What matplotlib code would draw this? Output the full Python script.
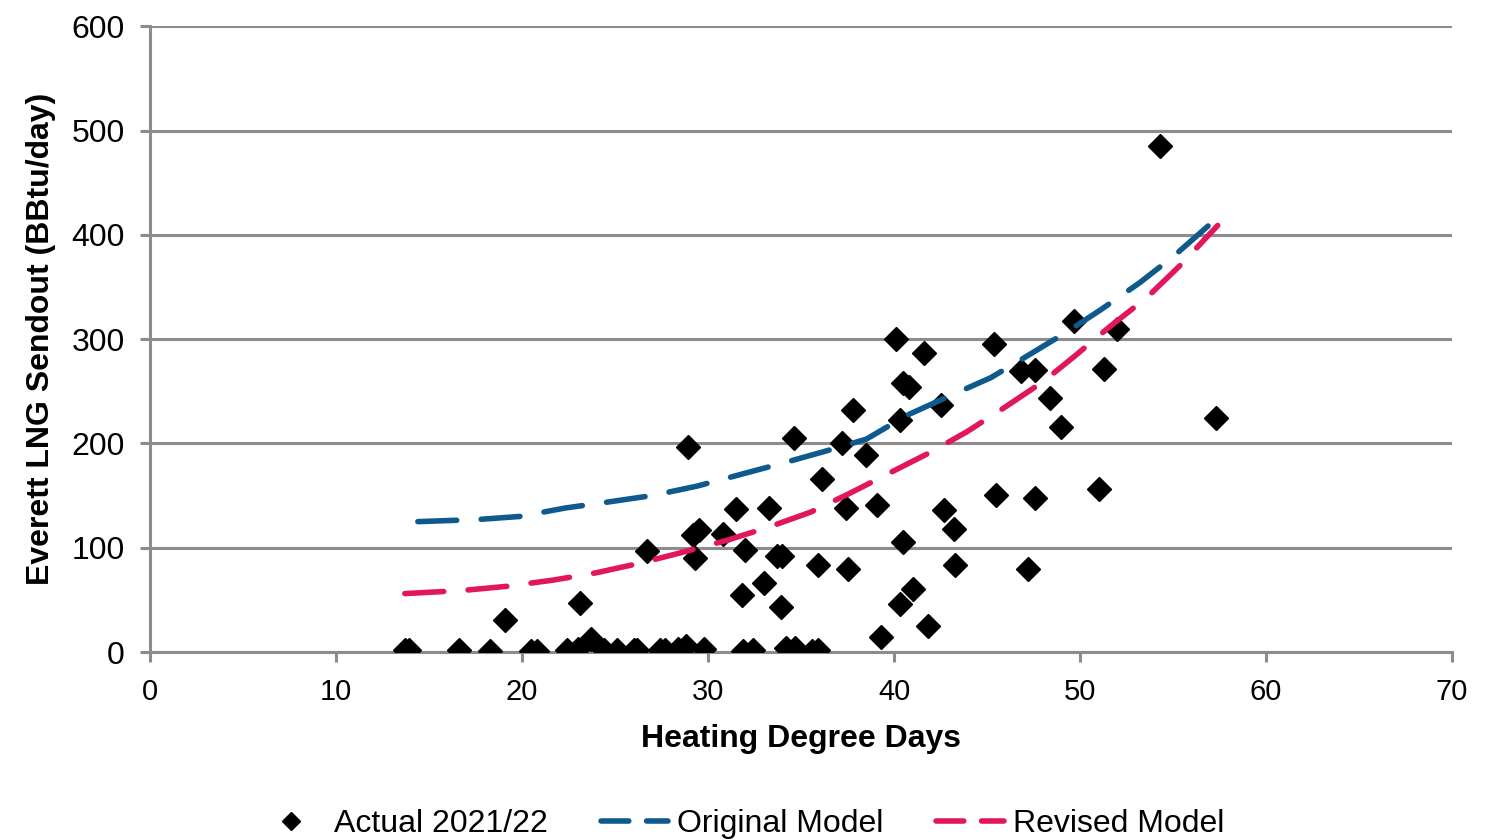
import matplotlib.pyplot as plt
from matplotlib.lines import Line2D

plt.rcParams['font.family'] = ['Liberation Sans', 'DejaVu Sans']

# Actual 2021/22 daily points (HDD, BBtu/day)
actual_hdd = [13.7, 13.9, 16.6, 18.3, 20.5, 20.8, 22.4, 23.0, 23.7, 24.4,
              25.1, 26.0, 26.2, 27.4, 27.7, 28.4, 28.8, 29.8, 31.9, 32.4,
              34.2, 34.7, 35.6, 35.9,
              19.1, 23.1, 26.7, 28.9, 29.2, 29.5, 29.3, 30.8, 31.5, 32.0,
              31.8, 33.0, 33.3, 33.7, 34.0, 33.9, 34.6, 35.9, 36.1, 37.2,
              37.4, 37.5, 37.8, 38.5, 39.1, 39.3, 40.1, 40.3, 40.3, 40.5,
              40.5, 40.8, 41.0, 41.6, 41.8, 42.5, 42.7, 43.2, 43.3, 45.4,
              45.5, 46.8, 47.6, 47.2, 47.6, 48.4, 49.0, 49.7, 51.0, 51.3,
              52.0, 54.3, 57.3]
actual_send = [2, 2, 2, 1, 1, 1, 2, 3, 12, 2,
               2, 2, 2, 2, 2, 3, 6, 3, 1, 2,
               4, 4, 1, 2,
               31, 47, 97, 197, 112, 117, 90, 113, 137, 98,
               55, 66, 138, 92, 92, 43, 205, 83, 166, 200,
               138, 80, 232, 189, 141, 14, 300, 222, 46, 105,
               258, 254, 60, 287, 25, 237, 136, 118, 83, 295,
               151, 269, 270, 80, 148, 244, 216, 317, 156, 271,
               310, 485, 224]

# model curves
orig_hdd = [14.4, 17.6, 19.9, 22.3, 24.7, 27.0, 29.4, 31.7, 34.0, 36.2,
            38.5, 40.7, 42.8, 45.2, 46.8, 49.3, 51.1, 53.2, 55.0, 57.3]
orig_send = [125, 127, 130, 138, 144, 150, 159, 170, 181, 192,
             204, 227, 244, 263, 280, 307, 328, 354, 379, 415]

rev_hdd = [13.7, 16.8, 19.2, 21.7, 24.0, 26.3, 28.5, 31.0, 33.3, 35.5,
           37.6, 39.8, 41.9, 43.9, 45.9, 48.0, 49.8, 51.6, 53.6, 55.4, 57.4]
rev_send = [56, 59, 63, 69, 76, 85, 95, 107, 120, 134,
            152, 172, 191, 211, 234, 259, 285, 312, 340, 371, 409]

blue = '#0E5A8E'
red = '#E2165E'
grey = '#8C8C8C'

fig = plt.figure(figsize=(14.97, 8.4), dpi=100)
ax = fig.add_axes([0.1002, 0.2238, 0.8698, 0.745])

ax.plot(actual_hdd, actual_send, linestyle='none', marker='D', markersize=12,
        color='black', zorder=3)
ax.plot(orig_hdd, orig_send, color=blue, linewidth=4, linestyle=(0, (7, 4.4)),
        dash_capstyle='round', zorder=4)
ax.plot(rev_hdd, rev_send, color=red, linewidth=4, linestyle=(0, (7, 4.4)),
        dash_capstyle='round', zorder=4)

ax.set_xlim(0, 70)
ax.set_ylim(0, 600)
ax.set_xticks(range(0, 71, 10))
ax.set_yticks(range(0, 601, 100))
ax.yaxis.grid(True, color=grey, linewidth=2.2)
ax.set_axisbelow(True)
for side in ['top', 'right']:
    ax.spines[side].set_visible(False)
for side in ['left', 'bottom']:
    ax.spines[side].set_color(grey)
    ax.spines[side].set_linewidth(2.2)
ax.tick_params(axis='both', color=grey, width=2.2, length=7)
ax.tick_params(axis='y', labelsize=23, pad=11)
ax.tick_params(axis='x', labelsize=21, pad=12)

ax.set_xlabel('Heating Degree Days', fontsize=23, fontweight='bold', labelpad=13)
ax.set_ylabel('Everett LNG Sendout (BBtu/day)', fontsize=23, fontweight='bold',
              labelpad=11)

handles = [
    Line2D([], [], linestyle='none', marker='D', markersize=9, color='black'),
    Line2D([], [], color=blue, linewidth=4, linestyle=(0, (5, 3.2)),
           dash_capstyle='round'),
    Line2D([], [], color=red, linewidth=4, linestyle=(0, (5, 3.2)),
           dash_capstyle='round'),
]
fig.legend(handles, ['Actual 2021/22', 'Original Model', 'Revised Model'],
           loc='lower center', bbox_to_anchor=(0.495, -0.033), ncol=3,
           frameon=False, fontsize=23, handlelength=2.1, handletextpad=0.3,
           columnspacing=1.65)

fig.savefig('out.png', dpi=100)
